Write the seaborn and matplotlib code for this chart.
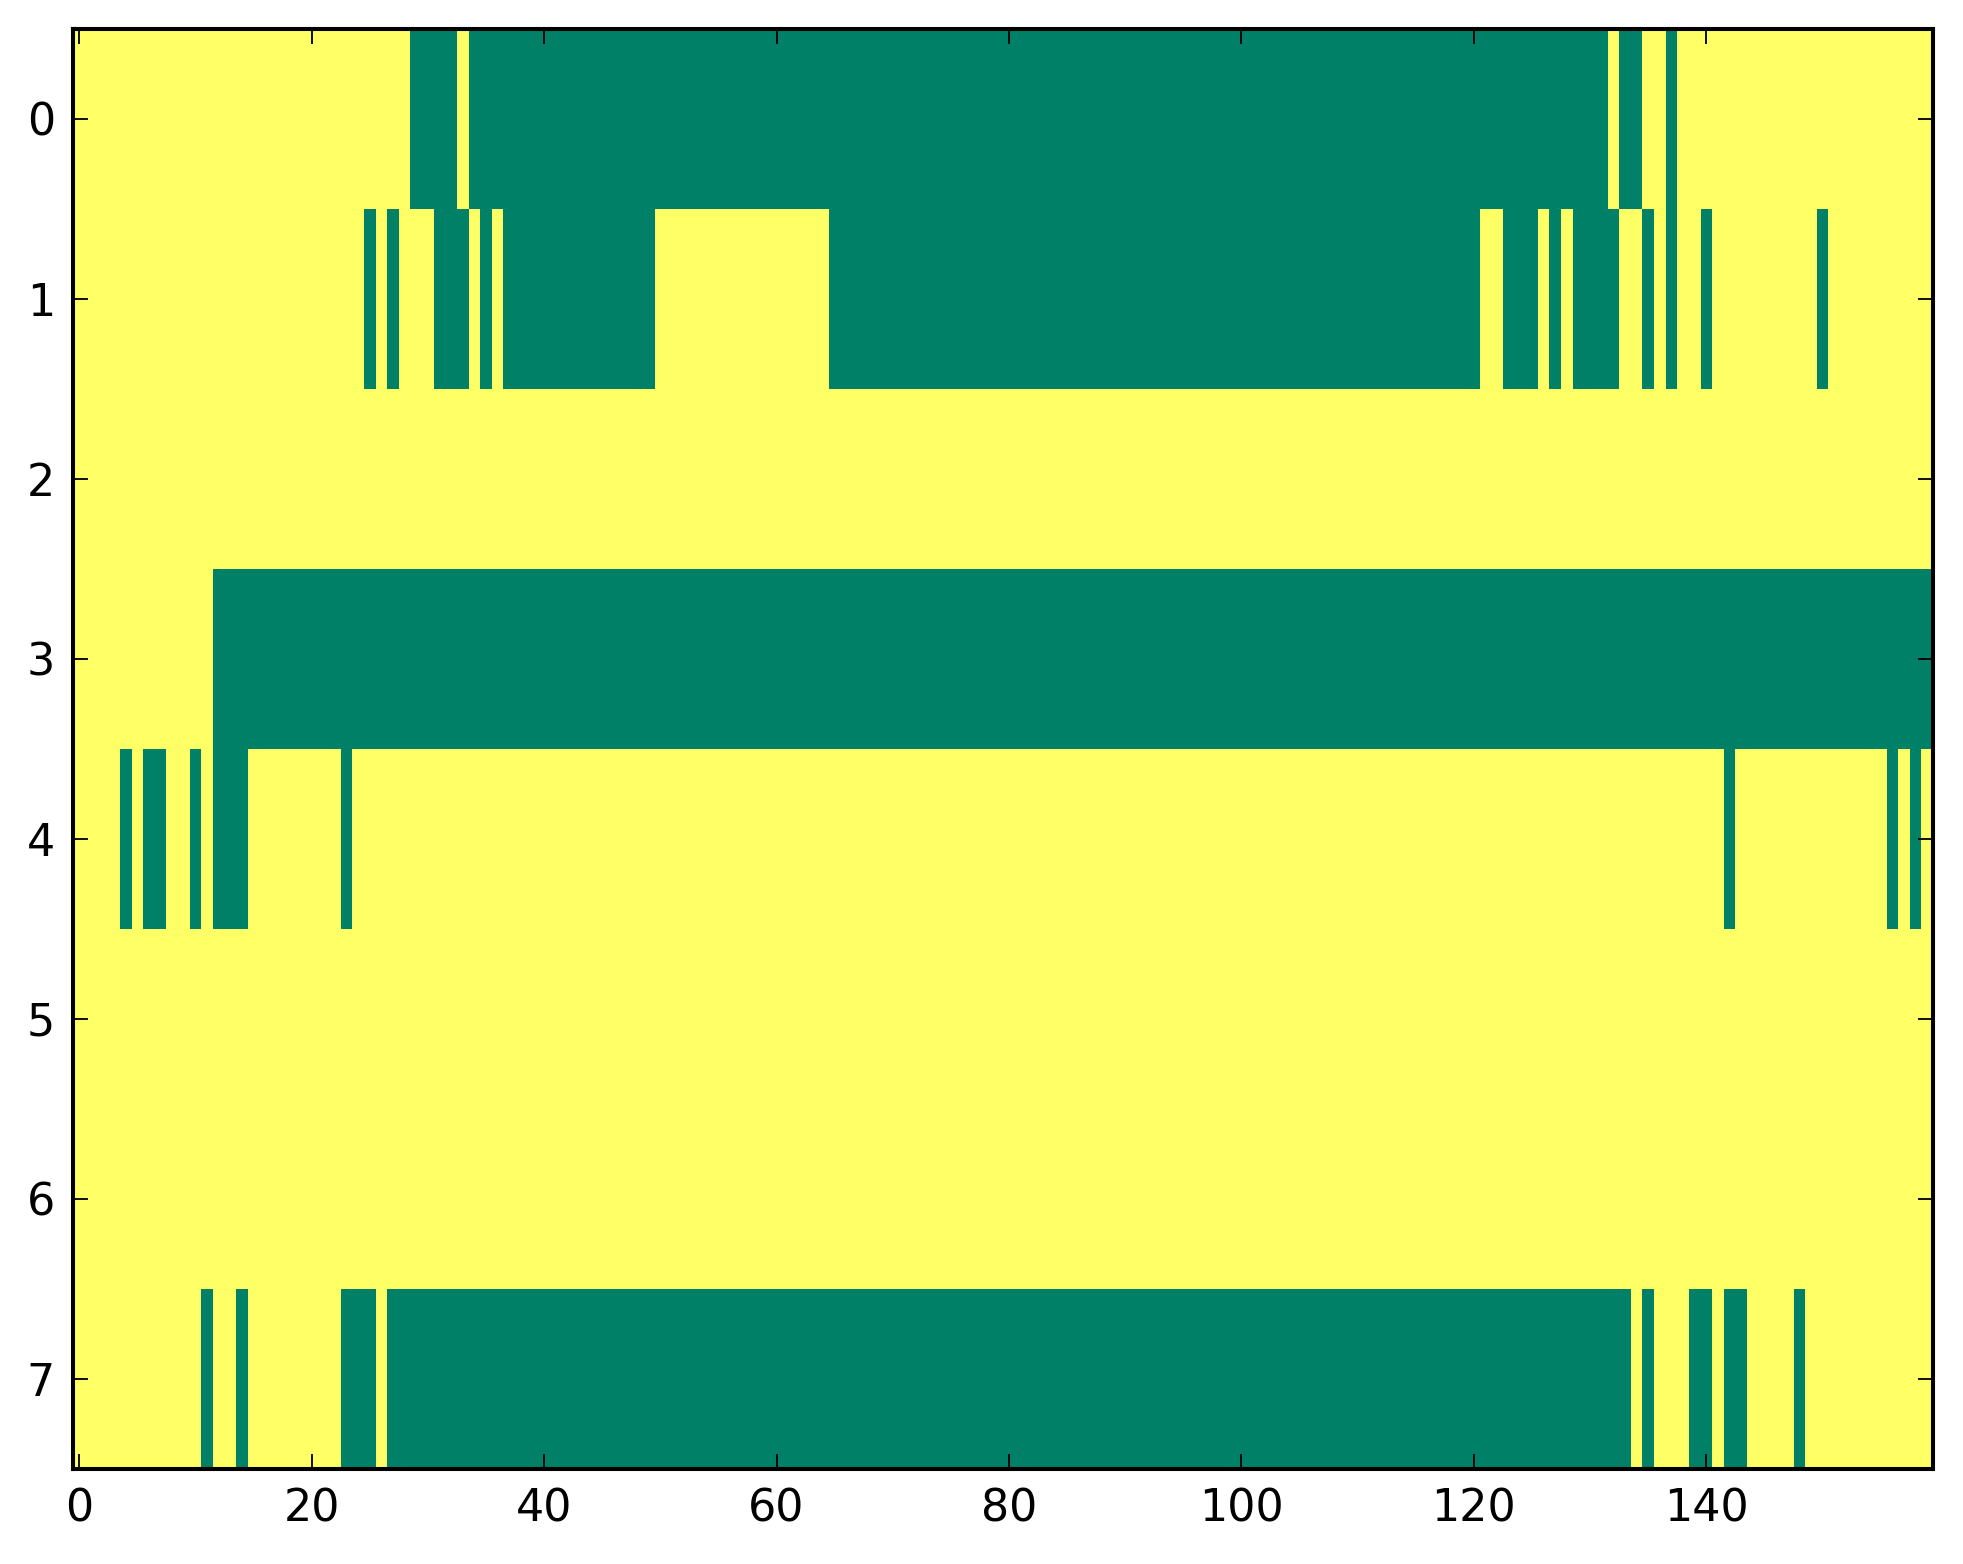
import numpy as np
import pandas as pd
import matplotlib
matplotlib.use("Agg")
import matplotlib.pyplot as plt
import seaborn as sns

# 1 = yellow (high), 0 = green (low); 160 columns per row
row0 = ("1" * 29 + "0" * 4 + "1" + "0" * 98 + "1" + "00" + "11" + "0" + "1" * 22)
row1 = ("1" * 25 + "0" + "1" + "0" + "111" + "000" + "1" + "0" + "1" + "0" * 13
        + "1" * 15 + "0" * 56 + "11" + "000" + "1" + "0" + "1" + "0000" + "11"
        + "0" + "1" + "0" + "11" + "0" + "1" * 9 + "0" + "1" * 9)
row2 = "1" * 160
row3 = "1" * 12 + "0" * 148
row4 = ("1111" + "0" + "1" + "00" + "11" + "0" + "1" + "000" + "1" * 8 + "0"
        + "1" * 118 + "0" + "1" * 13 + "0" + "1" + "0" + "1")
row5 = "1" * 160
row6 = "1" * 160
row7 = ("1" * 11 + "0" + "11" + "0" + "1" * 8 + "000" + "1" + "0" * 107 + "1"
        + "0" + "111" + "00" + "1" + "00" + "1111" + "0" + "1" * 11)

rows = [row0, row1, row2, row3, row4, row5, row6, row7]
row_labels = [0, 1, 2, 3, 4, 5, 6, 7]
xtick_labels = [0, 20, 40, 60, 80, 100, 120, 140]

data = pd.DataFrame([[int(ch) for ch in r] for r in rows], index=row_labels)

DPI = 266
W, H = 1963, 1564
left, right, top, bottom = 73.4, 1933, 29, 1469
fig = plt.figure(figsize=(W / DPI, H / DPI), dpi=DPI, facecolor="white")
ax = fig.add_axes([left / W, 1 - bottom / H, (right - left) / W, (bottom - top) / H])

sns.heatmap(data, ax=ax, cmap="summer", vmin=0, vmax=1, cbar=False,
            xticklabels=False, yticklabels=False)

ax.set_xticks([v + 0.5 for v in xtick_labels])
ax.set_xticklabels([str(v) for v in xtick_labels], rotation=0)
ax.set_yticks([v + 0.5 for v in row_labels])
ax.set_yticklabels([str(v) for v in row_labels], rotation=0)
ax.set_xlabel("")
ax.set_ylabel("")

for s in ax.spines.values():
    s.set_visible(True)
    s.set_linewidth(1.1)
    s.set_color("black")

ax.tick_params(axis="both", which="major", direction="in", length=4, width=0.5,
               top=True, right=True, bottom=True, left=True,
               labeltop=False, labelright=False, labelsize=12, pad=5,
               colors="black")

fig.savefig("out.png", dpi=DPI, facecolor="white")
